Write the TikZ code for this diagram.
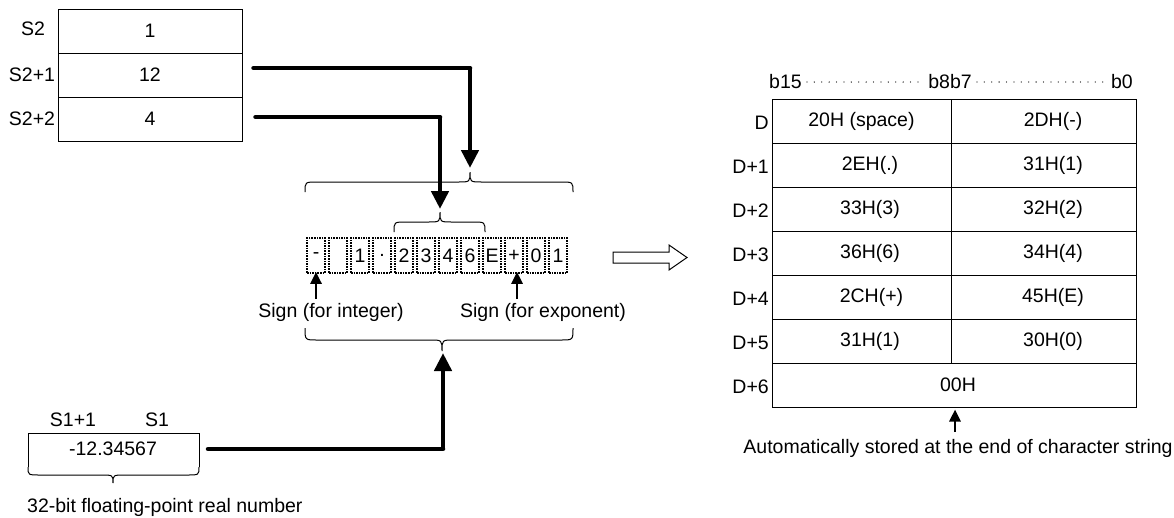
\documentclass[tikz,border=0pt]{standalone}
\usepackage{fontspec}
\setmainfont{Liberation Sans}
\usetikzlibrary{arrows.meta}
\newcommand\mybrace[6]{% x1, xtip, x2, yend, ymid, ytip
  \draw[bracestyle] (#1,#4) .. controls (#1,#5) .. ({#1+12},#5) -- ({#2-12},#5)
    .. controls (#2,#5) .. (#2,#6) .. controls (#2,#5) .. ({#2+12},#5)
    -- ({#3-12},#5) .. controls (#3,#5) .. (#3,#4);}
\tikzset{
  txt/.style={font=\fontsize{19.5}{22}\selectfont, inner sep=0pt},
  cellbox/.style={draw, line width=1pt, minimum height=44pt, inner sep=0pt, font=\fontsize{19.5}{22}\selectfont},
  charbox/.style={draw, densely dotted, line width=1.6pt, minimum width=18pt, minimum height=35pt, inner sep=0pt, font=\fontsize{19.5}{22}\selectfont},
  bracestyle/.style={line width=1pt},
  thick line/.style={line width=4.5pt, line cap=round},
  thick arrow/.style={line width=4.5pt, -{Triangle[length=18pt,width=17pt]}},
  thin arrow/.style={line width=2.6pt, -{Triangle[length=12pt,width=11pt]}},
}
\begin{document}
\begin{tikzpicture}[x=1pt,y=-1pt]
\useasboundingbox (0,0) rectangle (1174,517);

% ---- source table S2
\node[cellbox, minimum width=184pt] (s2a) at (150,31) {1};
\node[cellbox, minimum width=184pt] (s2b) at (150,75) {12};
\node[cellbox, minimum width=184pt] (s2c) at (150,119) {4};
\node[txt] (ls2a) at (33,29) {S2};
\node[txt] (ls2b) at (32,75) {S2+1};
\node[txt] (ls2c) at (32,119) {S2+2};

% ---- character cells
\foreach \c [count=\i from 0] in {-,{},1,.,2,3,4,6,E,+,0,1}{
  \node[charbox] (c\i) at ({316+22*\i},255.5) {\c};
}

% ---- braces
\mybrace{305}{470}{573}{192}{182}{172}
\mybrace{394}{440}{485}{232}{222}{212}
\mybrace{305}{442}{573}{328}{340}{351}

% ---- connectors from S2
\coordinate (p1) at ([xshift=11pt]s2b.east |- 0,68);
\coordinate (t1) at (470,168);
\draw[thick line] (p1) -- (470,68);
\draw[thick arrow] (470,68) -- (t1);
\coordinate (p2) at ([xshift=13pt]s2c.east |- 0,117);
\coordinate (t2) at (440,209);
\draw[thick line] (p2) -- (440,117);
\draw[thick arrow] (440,117) -- (t2);

% ---- sign arrows and labels
\node[txt] (sgn1) at (331,312) {Sign (for integer)};
\node[txt] (sgn2) at (543,312) {Sign (for exponent)};
\draw[thin arrow] (c0.south |- 0,299) -- ([yshift=2pt]c0.south);
\draw[thin arrow] ([xshift=3pt]c9.south |- 0,299) -- ([xshift=3pt,yshift=2pt]c9.south);

% ---- S1 box
\draw[line width=1pt] (28,467) -- (28,433) -- (199,433) -- (199,467);
\mybrace{28}{113}{199}{467}{475}{483}
\node[txt] (s1) at (113,449) {-12.34567};
\node[txt] (ls1a) at (73,420) {S1+1};
\node[txt] (ls1b) at (157,420) {S1};
\node[txt, anchor=west] (fp) at (27,507) {32-bit floating-point real number};
\coordinate (p3) at (208,449);
\coordinate (t3) at (443,353);
\draw[thick line] (p3) -- (443,449);
\draw[thick arrow] (443,449) -- (t3);

% ---- hollow arrow
\draw[line width=1pt] (613,252) -- (669,252) -- (669,245) -- (687,257.5) -- (669,270) -- (669,263) -- (613,263) -- cycle;

% ---- destination table
\node[txt, anchor=west] (b15) at (769,82) {b15};
\node[txt] (b87) at (950,82) {b8b7};
\node[txt, anchor=east] (b0) at (1133,82) {b0};
\draw[line width=1.3pt, line cap=round, dash pattern=on 0pt off 7.4pt] ([xshift=5pt]b15.east) -- ([xshift=-3pt]b87.west);
\draw[line width=1.3pt, line cap=round, dash pattern=on 0pt off 7.4pt] ([xshift=5pt]b87.east) -- ([xshift=-3pt]b0.west);

\foreach \k/\l/\r [count=\j from 0] in {%
  D/{20H (space)\hspace{35pt}}/{\hspace{19pt}2DH(-)},
  D+1/{\hspace{17pt}2EH(.)}/{\hspace{19pt}31H(1)},
  D+2/{\hspace{17pt}33H(3)}/{\hspace{19pt}32H(2)},
  D+3/{\hspace{17pt}36H(6)}/{\hspace{19pt}34H(4)},
  D+4/{\hspace{20pt}2CH(+)}/{\hspace{19pt}45H(E)},
  D+5/{\hspace{17pt}31H(1)}/{\hspace{19pt}30H(0)}}{
  \node[cellbox, minimum width=179pt] (dl\j) at (861.5,{121+44*\j}) {\l};
  \node[cellbox, minimum width=185pt] (dr\j) at (1043.5,{121+44*\j}) {\r};
  \node[txt, anchor=east] (ld\j) at (769,{122.5+44*\j}) {\k};
}
\node[cellbox, minimum width=364pt] (d6) at (954,385) {\hspace{8pt}00H};
\node[txt, anchor=east] (ld6) at (769,386.5) {D+6};

\node[txt] (auto) at (958,448) {Automatically stored at the end of character string};
\draw[thin arrow] ([xshift=1pt]d6.south |- 0,432) -- ([xshift=1pt,yshift=-2pt]d6.south);
\end{tikzpicture}
\end{document}
